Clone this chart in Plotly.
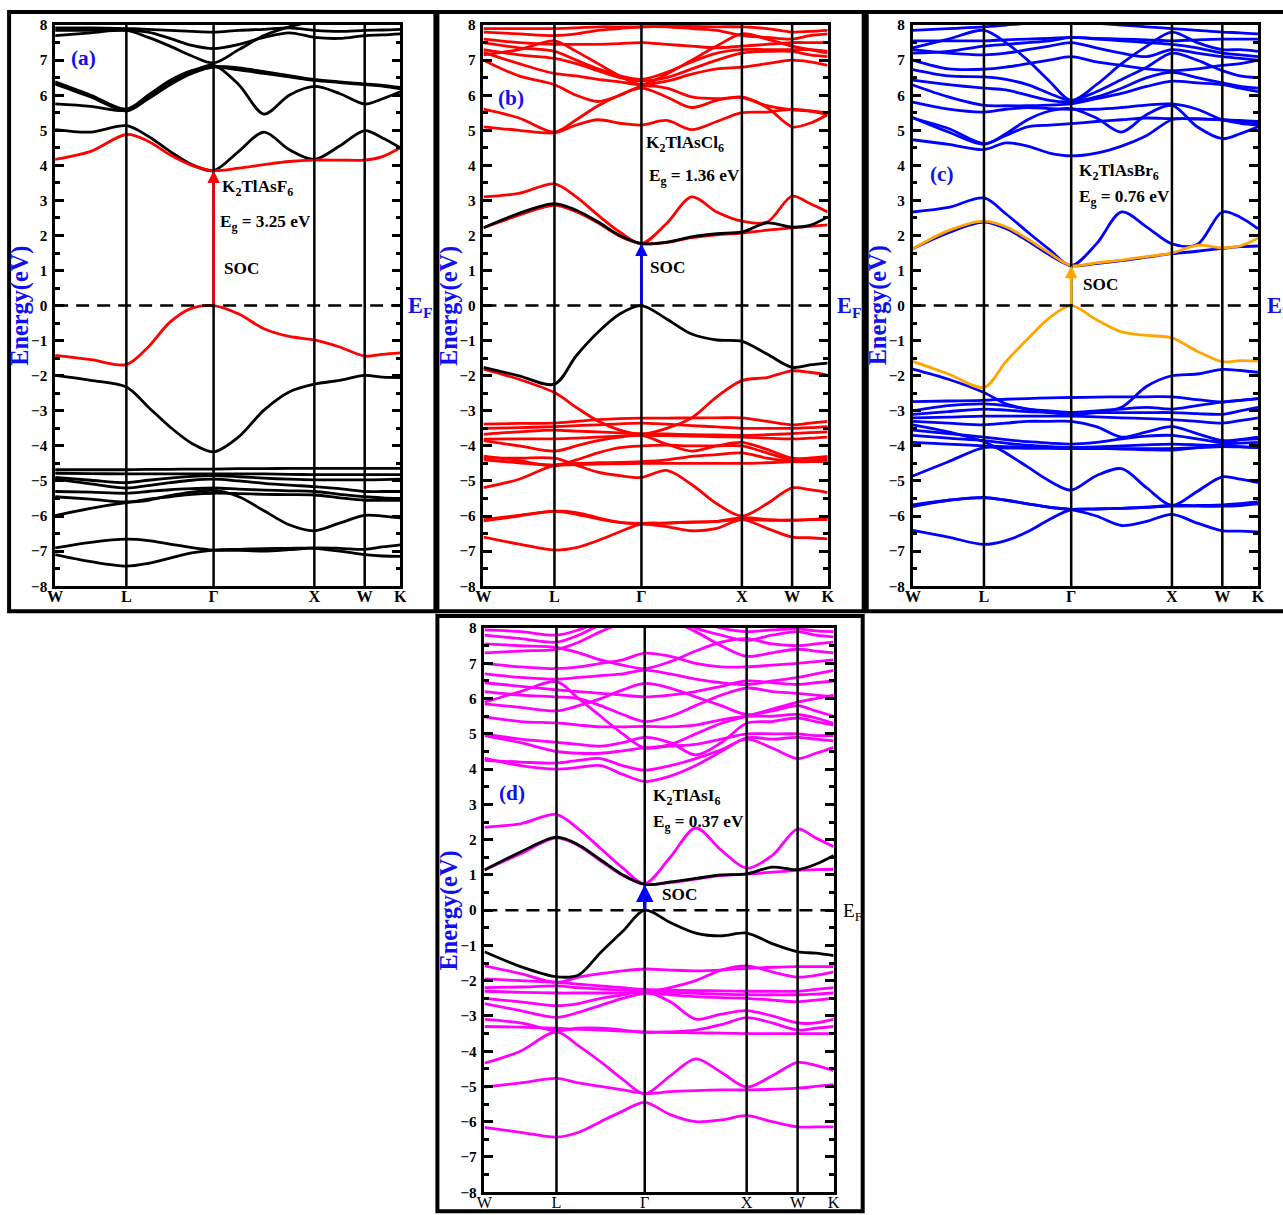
import plotly.graph_objects as go

# ---------------------------------------------------------------
# k-path W-L-Gamma-X-W-K (FCC, units of 2*pi/a) and sample points
# ---------------------------------------------------------------
K_NODES = [0.0, 0.354, 0.707, 0.924, 1.140, 1.357, 1.573, 1.823, 2.073,
           2.323, 2.573, 2.823, 3.073, 3.250, 3.427]
HS_POS = [0.0, 0.707, 1.573, 2.573, 3.073, 3.427]
HS_LABELS = ["W", "L", "Γ", "X", "W", "K"]
K_GAMMA = 1.573
K_MAX = 3.427

# ---------------- (a) K2TlAsF6 ----------------
a_red_cb = [4.17, 4.40, 4.88, 4.69, 4.30, 4.00, 3.85, 3.92, 4.02, 4.11, 4.15, 4.15, 4.15, 4.25, 4.50]
a_red_vb = [-1.42, -1.54, -1.68, -1.18, -0.47, -0.07, 0.0, -0.24, -0.66, -0.88, -0.98, -1.18, -1.44, -1.39, -1.35]
a_black = [
    [5.02, 4.95, 5.13, 4.83, 4.40, 4.02, 3.85, 4.40, 4.95, 4.45, 4.17, 4.55, 4.99, 4.78, 4.50],
    [5.75, 5.68, 5.57, 5.92, 6.35, 6.68, 6.85, 6.30, 5.46, 6.00, 6.25, 6.05, 5.75, 5.90, 6.10],
    [6.38, 6.00, 5.60, 6.00, 6.42, 6.70, 6.82, 6.78, 6.67, 6.56, 6.45, 6.38, 6.32, 6.28, 6.22],
    [6.32, 5.95, 5.55, 5.90, 6.30, 6.62, 6.80, 6.72, 6.62, 6.52, 6.42, 6.36, 6.30, 6.26, 6.18],
    [7.70, 7.78, 7.85, 7.65, 7.40, 7.12, 6.92, 7.30, 7.70, 7.95, 8.10, 8.10, 8.05, 8.05, 8.05],
    [7.85, 7.85, 7.85, 7.80, 7.62, 7.42, 7.33, 7.45, 7.65, 7.78, 7.65, 7.62, 7.70, 7.72, 7.75],
    [7.92, 7.92, 7.90, 7.88, 7.85, 7.82, 7.80, 7.85, 7.88, 7.92, 7.85, 7.82, 7.85, 7.86, 7.88],
    [-1.99, -2.13, -2.32, -2.89, -3.46, -3.93, -4.17, -3.74, -2.98, -2.46, -2.24, -2.13, -1.99, -2.04, -2.05],
    [-4.68, -4.68, -4.68, -4.67, -4.67, -4.66, -4.66, -4.65, -4.65, -4.64, -4.64, -4.64, -4.64, -4.64, -4.64],
    [-4.78, -4.79, -4.80, -4.80, -4.80, -4.80, -4.80, -4.80, -4.80, -4.81, -4.82, -4.82, -4.82, -4.82, -4.82],
    [-4.90, -4.98, -5.05, -4.98, -4.92, -4.87, -4.85, -4.88, -4.92, -4.95, -4.97, -4.97, -4.97, -4.96, -4.95],
    [-4.95, -5.08, -5.20, -5.13, -5.05, -4.98, -4.95, -5.00, -5.07, -5.12, -5.16, -5.22, -5.30, -5.30, -5.30],
    [-5.30, -5.32, -5.35, -5.30, -5.25, -5.22, -5.20, -5.23, -5.26, -5.28, -5.30, -5.38, -5.45, -5.48, -5.50],
    [-5.45, -5.52, -5.60, -5.52, -5.45, -5.38, -5.35, -5.36, -5.38, -5.39, -5.40, -5.48, -5.55, -5.55, -5.55],
    [-5.99, -5.78, -5.62, -5.55, -5.42, -5.32, -5.27, -5.45, -5.85, -6.25, -6.42, -6.20, -5.98, -6.00, -6.05],
    [-6.91, -6.75, -6.66, -6.70, -6.80, -6.90, -6.97, -6.98, -7.00, -6.96, -6.91, -6.92, -6.95, -6.88, -6.82],
    [-7.10, -7.30, -7.43, -7.35, -7.20, -7.05, -6.97, -6.95, -6.93, -6.92, -6.92, -7.00, -7.10, -7.14, -7.15],
]

# ---------------- (b) K2TlAsCl6 ----------------
b_black_cb = [2.22, 2.63, 2.91, 2.72, 2.39, 2.00, 1.77, 1.81, 1.96, 2.05, 2.10, 2.36, 2.24, 2.29, 2.53]
b_black_vb = [-1.76, -2.00, -2.24, -1.43, -0.76, -0.24, 0.0, -0.38, -0.81, -0.98, -1.02, -1.38, -1.76, -1.69, -1.64]
b_red = [
    [2.22, 2.58, 2.86, 2.68, 2.36, 1.98, 1.77, 1.80, 1.94, 2.02, 2.07, 2.15, 2.22, 2.26, 2.30],
    [3.10, 3.20, 3.47, 3.10, 2.58, 2.10, 1.77, 2.34, 3.10, 2.67, 2.41, 2.38, 3.12, 2.91, 2.67],
    [5.10, 5.00, 4.93, 5.15, 5.30, 5.20, 5.15, 5.28, 5.02, 5.25, 5.50, 5.52, 5.60, 5.55, 5.45],
    [5.60, 5.35, 4.95, 5.30, 5.70, 6.00, 6.20, 5.95, 5.65, 5.85, 5.95, 5.65, 5.10, 5.20, 5.45],
    [7.00, 6.55, 6.30, 6.00, 5.82, 6.00, 6.25, 6.20, 5.95, 5.90, 5.93, 5.70, 5.58, 5.55, 5.50],
    [7.22, 6.90, 6.62, 6.55, 6.45, 6.38, 6.30, 6.40, 6.60, 6.75, 6.80, 6.90, 7.00, 6.95, 6.85],
    [7.30, 7.15, 7.05, 6.90, 6.70, 6.50, 6.40, 6.50, 6.75, 7.00, 7.20, 7.25, 7.25, 7.15, 7.10],
    [7.50, 7.35, 7.25, 7.00, 6.75, 6.55, 6.45, 6.65, 6.95, 7.20, 7.30, 7.30, 7.30, 7.30, 7.25],
    [7.60, 7.50, 7.45, 7.45, 7.45, 7.47, 7.50, 7.45, 7.40, 7.35, 7.40, 7.45, 7.50, 7.50, 7.50],
    [7.80, 7.75, 7.70, 7.75, 7.85, 7.90, 7.95, 7.95, 7.90, 7.85, 7.70, 7.65, 7.60, 7.70, 7.75],
    [7.90, 7.90, 7.90, 7.92, 7.95, 7.95, 7.95, 7.96, 7.96, 7.95, 7.95, 7.90, 7.80, 7.82, 7.85],
    [7.15, 7.30, 7.55, 7.25, 6.90, 6.55, 6.30, 6.60, 7.00, 7.40, 7.75, 7.60, 7.40, 7.30, 7.20],
    [-1.81, -2.10, -2.48, -2.90, -3.29, -3.55, -3.67, -3.50, -3.20, -2.60, -2.14, -2.05, -1.86, -1.90, -1.98],
    [-3.38, -3.36, -3.35, -3.30, -3.25, -3.22, -3.21, -3.21, -3.20, -3.20, -3.20, -3.30, -3.40, -3.35, -3.30],
    [-3.50, -3.48, -3.45, -3.42, -3.40, -3.37, -3.35, -3.38, -3.42, -3.46, -3.50, -3.50, -3.50, -3.48, -3.45],
    [-3.67, -3.60, -3.55, -3.58, -3.60, -3.63, -3.65, -3.66, -3.68, -3.69, -3.70, -3.68, -3.65, -3.62, -3.60],
    [-3.81, -3.80, -3.80, -3.78, -3.75, -3.72, -3.70, -3.71, -3.72, -3.74, -3.75, -3.78, -3.80, -3.78, -3.75],
    [-3.85, -4.00, -4.15, -4.00, -3.85, -3.75, -3.70, -3.95, -4.15, -4.00, -3.90, -4.10, -4.35, -4.35, -4.35],
    [-4.29, -4.42, -4.57, -4.40, -4.20, -4.05, -4.00, -3.98, -4.00, -4.00, -4.00, -4.20, -4.40, -4.35, -4.30],
    [-4.40, -4.48, -4.55, -4.53, -4.52, -4.51, -4.50, -4.50, -4.50, -4.50, -4.50, -4.48, -4.45, -4.42, -4.40],
    [-5.19, -4.95, -4.55, -4.50, -4.48, -4.47, -4.45, -4.40, -4.30, -4.25, -4.20, -4.35, -4.45, -4.45, -4.45],
    [-4.35, -4.35, -4.35, -4.55, -4.75, -4.85, -4.90, -4.70, -5.10, -5.65, -6.00, -5.65, -5.20, -5.25, -5.33],
    [-6.14, -6.00, -5.86, -5.90, -6.05, -6.18, -6.22, -6.20, -6.18, -6.15, -6.10, -6.12, -6.12, -6.10, -6.05],
    [-6.10, -5.98, -5.87, -5.95, -6.08, -6.18, -6.22, -6.30, -6.42, -6.35, -6.10, -6.35, -6.60, -6.62, -6.65],
    [-6.60, -6.80, -6.97, -6.90, -6.70, -6.45, -6.22, -6.20, -6.17, -6.15, -6.05, -6.10, -6.12, -6.10, -6.10],
]

# ---------------- (c) K2TlAsBr6 ----------------
c_orange_cb = [1.62, 2.14, 2.41, 2.25, 1.90, 1.50, 1.14, 1.22, 1.30, 1.40, 1.50, 1.72, 1.65, 1.70, 1.92]
c_orange_vb = [-1.59, -1.95, -2.33, -1.60, -0.95, -0.35, 0.0, -0.40, -0.75, -0.85, -0.92, -1.30, -1.60, -1.57, -1.58]
c_blue = [
    [1.62, 2.08, 2.38, 2.20, 1.85, 1.45, 1.14, 1.20, 1.28, 1.38, 1.48, 1.55, 1.63, 1.68, 1.70],
    [2.67, 2.80, 3.07, 2.62, 2.10, 1.60, 1.14, 1.76, 2.67, 2.24, 1.76, 1.74, 2.67, 2.52, 2.19],
    [4.73, 4.60, 4.45, 4.64, 4.55, 4.35, 4.27, 4.35, 4.55, 4.85, 5.30, 5.32, 5.30, 5.25, 5.20],
    [5.36, 4.95, 4.60, 4.90, 5.30, 5.55, 5.62, 5.35, 4.95, 5.45, 5.71, 5.10, 4.76, 4.90, 5.10],
    [5.35, 5.05, 4.62, 4.85, 5.10, 5.15, 5.19, 5.25, 5.30, 5.35, 5.33, 5.33, 5.30, 5.28, 5.25],
    [5.80, 5.60, 5.52, 5.60, 5.65, 5.62, 5.60, 5.60, 5.65, 5.72, 5.75, 5.60, 5.30, 5.20, 5.15],
    [6.29, 5.95, 5.71, 5.70, 5.70, 5.72, 5.75, 5.90, 6.05, 6.25, 6.40, 6.35, 6.30, 6.20, 6.10],
    [6.43, 6.30, 6.20, 6.15, 6.00, 5.85, 5.81, 5.95, 6.20, 6.50, 6.65, 6.50, 6.35, 6.25, 6.20],
    [6.73, 6.55, 6.52, 6.45, 6.30, 6.05, 5.85, 6.10, 6.45, 6.80, 7.20, 7.00, 6.70, 6.55, 6.50],
    [7.00, 6.75, 6.74, 6.80, 6.90, 7.00, 7.10, 6.95, 6.85, 6.75, 6.70, 6.75, 6.85, 6.90, 7.00],
    [7.20, 7.25, 7.40, 7.45, 7.50, 7.55, 7.65, 7.60, 7.55, 7.50, 7.45, 7.35, 7.20, 7.15, 7.10],
    [7.35, 7.60, 7.85, 7.50, 7.00, 6.40, 5.85, 6.30, 6.90, 7.40, 7.80, 7.50, 7.30, 7.30, 7.25],
    [7.55, 7.55, 7.55, 7.58, 7.60, 7.62, 7.65, 7.62, 7.60, 7.58, 7.55, 7.58, 7.60, 7.60, 7.60],
    [7.85, 7.90, 7.95, 8.00, 8.05, 8.08, 8.10, 8.05, 8.00, 7.95, 7.90, 7.85, 7.80, 7.78, 7.75],
    [7.30, 7.20, 7.15, 7.20, 7.30, 7.40, 7.50, 7.35, 7.20, 7.10, 7.30, 7.20, 7.10, 7.05, 7.00],
    [-1.81, -2.10, -2.48, -2.80, -2.95, -3.05, -3.10, -3.05, -2.90, -2.30, -2.00, -1.95, -1.82, -1.85, -1.90],
    [-2.74, -2.72, -2.70, -2.67, -2.65, -2.63, -2.62, -2.61, -2.60, -2.60, -2.60, -2.68, -2.75, -2.70, -2.65],
    [-3.00, -2.85, -2.80, -2.85, -2.95, -3.00, -3.05, -3.00, -2.95, -2.90, -2.95, -2.85, -2.75, -2.70, -2.65],
    [-3.10, -3.02, -2.95, -2.98, -3.02, -3.04, -3.05, -3.05, -3.05, -3.05, -3.05, -3.08, -3.10, -3.00, -2.90],
    [-3.20, -3.18, -3.15, -3.15, -3.15, -3.15, -3.15, -3.17, -3.20, -3.22, -3.25, -3.30, -3.35, -3.28, -3.20],
    [-3.30, -3.35, -3.40, -3.35, -3.30, -3.30, -3.30, -3.45, -3.75, -3.60, -3.45, -3.65, -3.85, -3.82, -3.80],
    [-3.55, -3.65, -3.75, -3.82, -3.88, -3.92, -3.95, -3.90, -3.80, -3.72, -3.70, -3.80, -3.90, -3.82, -3.75],
    [-3.70, -3.78, -3.85, -3.92, -3.98, -4.02, -4.05, -4.07, -4.09, -4.11, -4.12, -4.05, -3.95, -3.92, -3.90],
    [-3.90, -3.95, -4.00, -4.02, -4.04, -4.05, -4.05, -4.03, -4.00, -3.97, -3.95, -3.97, -4.00, -4.02, -4.05],
    [-4.86, -4.45, -4.05, -4.06, -4.07, -4.07, -4.08, -4.08, -4.08, -4.08, -4.08, -4.05, -4.02, -4.03, -4.05],
    [-3.40, -3.60, -3.88, -4.20, -4.60, -5.00, -5.26, -4.85, -4.65, -5.20, -5.70, -5.30, -4.88, -4.95, -5.05],
    [-5.73, -5.55, -5.48, -5.55, -5.65, -5.75, -5.81, -5.80, -5.78, -5.75, -5.72, -5.72, -5.72, -5.70, -5.65],
    [-5.68, -5.55, -5.47, -5.55, -5.65, -5.75, -5.82, -6.00, -6.27, -6.15, -5.95, -6.20, -6.42, -6.43, -6.45],
    [-6.41, -6.60, -6.81, -6.70, -6.45, -6.10, -5.82, -5.80, -5.78, -5.75, -5.70, -5.70, -5.68, -5.65, -5.60],
]

# ---------------- (d) K2TlAsI6 ----------------
d_black_cb = [1.14, 1.65, 2.07, 1.85, 1.43, 1.00, 0.73, 0.80, 0.90, 1.00, 1.03, 1.22, 1.15, 1.30, 1.55]
d_black_vb = [-1.18, -1.60, -1.89, -1.84, -1.20, -0.60, 0.0, -0.35, -0.65, -0.73, -0.65, -0.95, -1.18, -1.22, -1.29]
d_magenta = [
    [1.14, 1.60, 2.05, 1.83, 1.40, 0.98, 0.73, 0.78, 0.88, 0.98, 1.02, 1.08, 1.13, 1.15, 1.16],
    [2.35, 2.45, 2.71, 2.30, 1.75, 1.20, 0.75, 1.50, 2.33, 1.70, 1.19, 1.55, 2.30, 2.05, 1.80],
    [4.31, 4.10, 4.00, 4.05, 4.10, 3.85, 3.65, 3.80, 4.10, 4.50, 4.89, 4.85, 4.90, 4.85, 4.80],
    [4.25, 4.20, 4.17, 4.25, 4.30, 4.10, 3.97, 4.10, 4.30, 4.55, 4.85, 4.60, 4.30, 4.45, 4.62],
    [4.95, 4.75, 4.50, 4.45, 4.45, 4.52, 4.60, 4.65, 4.70, 4.85, 5.00, 5.00, 5.00, 4.95, 4.95],
    [5.00, 4.85, 4.76, 4.70, 4.65, 4.75, 4.90, 4.75, 4.40, 4.75, 5.30, 5.35, 5.45, 5.35, 5.25],
    [5.48, 5.35, 5.31, 5.25, 5.20, 5.20, 5.21, 5.20, 5.25, 5.40, 5.50, 5.50, 5.55, 5.45, 5.30],
    [5.90, 6.20, 6.48, 6.00, 5.50, 5.00, 4.60, 4.70, 5.00, 5.30, 5.50, 5.70, 5.90, 6.00, 6.10],
    [5.85, 5.75, 5.65, 5.80, 6.00, 6.25, 6.43, 6.30, 6.05, 5.80, 5.55, 5.65, 5.80, 5.65, 5.50],
    [6.20, 6.10, 6.05, 6.00, 5.80, 5.55, 5.35, 5.50, 5.80, 6.10, 6.30, 6.20, 6.15, 6.10, 6.05],
    [6.45, 6.35, 6.25, 6.20, 6.15, 6.10, 6.05, 6.10, 6.20, 6.35, 6.50, 6.45, 6.40, 6.45, 6.50],
    [6.70, 6.60, 6.55, 6.60, 6.65, 6.70, 6.81, 6.70, 6.55, 6.45, 6.40, 6.50, 6.60, 6.70, 6.80],
    [7.00, 6.90, 6.85, 6.90, 7.00, 7.10, 7.29, 7.20, 7.00, 6.90, 6.90, 6.95, 7.00, 7.05, 7.10],
    [7.30, 7.35, 7.40, 7.60, 7.90, 8.15, 8.30, 8.20, 7.90, 7.50, 7.20, 7.30, 7.40, 7.35, 7.30],
    [7.55, 7.50, 7.45, 7.30, 7.10, 6.95, 6.85, 7.05, 7.35, 7.60, 7.70, 7.55, 7.50, 7.55, 7.60],
    [7.80, 7.70, 7.60, 7.80, 8.10, 8.35, 8.50, 8.30, 8.00, 7.80, 7.65, 7.80, 7.90, 7.80, 7.75],
    [7.95, 7.90, 7.80, 7.95, 8.20, 8.40, 8.50, 8.40, 8.20, 8.00, 7.90, 7.95, 7.98, 7.92, 7.90],
    [-1.58, -1.80, -2.05, -1.90, -1.80, -1.72, -1.67, -1.70, -1.72, -1.70, -1.65, -1.62, -1.60, -1.60, -1.60],
    [-1.95, -2.00, -2.05, -2.10, -2.15, -2.20, -2.25, -2.27, -2.28, -2.29, -2.30, -2.30, -2.30, -2.25, -2.20],
    [-2.20, -2.18, -2.15, -2.20, -2.24, -2.27, -2.30, -2.33, -2.36, -2.38, -2.40, -2.40, -2.40, -2.38, -2.35],
    [-2.30, -2.33, -2.35, -2.35, -2.35, -2.35, -2.35, -2.40, -2.45, -2.48, -2.50, -2.55, -2.60, -2.55, -2.50],
    [-2.50, -2.60, -2.71, -2.65, -2.50, -2.40, -2.30, -2.60, -3.09, -2.95, -2.85, -3.00, -3.20, -3.20, -3.10],
    [-2.65, -2.85, -3.04, -2.90, -2.70, -2.50, -2.35, -2.20, -2.00, -1.70, -1.58, -1.75, -1.90, -1.85, -1.75],
    [-3.10, -3.20, -3.42, -3.35, -3.35, -3.40, -3.47, -3.45, -3.40, -3.25, -3.05, -3.20, -3.40, -3.35, -3.30],
    [-3.30, -3.32, -3.35, -3.38, -3.40, -3.43, -3.45, -3.47, -3.48, -3.49, -3.50, -3.50, -3.50, -3.50, -3.50],
    [-4.34, -4.00, -3.45, -3.85, -4.30, -4.80, -5.21, -4.70, -4.22, -4.60, -5.02, -4.70, -4.32, -4.40, -4.55],
    [-5.02, -4.90, -4.77, -4.90, -5.00, -5.10, -5.20, -5.15, -5.12, -5.10, -5.10, -5.08, -5.05, -5.00, -4.95],
    [-6.16, -6.30, -6.44, -6.30, -6.00, -5.70, -5.45, -5.80, -6.00, -5.95, -5.83, -6.00, -6.15, -6.15, -6.15],
]

# Panel texts
PANEL_TAGS = ["(a)", "(b)", "(c)", "(d)"]
COMPOUNDS = ["K<sub>2</sub>TlAsF<sub>6</sub>", "K<sub>2</sub>TlAsCl<sub>6</sub>",
             "K<sub>2</sub>TlAsBr<sub>6</sub>", "K<sub>2</sub>TlAsI<sub>6</sub>"]
GAPS = ["3.25", "1.36", "0.76", "0.37"]
CBM_GAMMA = [3.85, 1.77, 1.14, 0.73]

# ---------------------------------------------------------------
# Layout geometry is given in target pixels; the graph div sits inside the
# page body (8px margin) and the page is shown at 1283/1299 of its size.
PAGE_PAD = 8
SHOW = 1283 / 1299
W_FIG, H_FIG = 1291, 1223
SERIF = "Liberation Serif"
BLUE_TXT = "#1010f0"


def px_x(p):
    return (p / SHOW - PAGE_PAD) / W_FIG


def px_y(p):
    return 1 - (p / SHOW - PAGE_PAD) / H_FIG


def fs(size):
    return round(size / SHOW, 1)


# plot areas in target pixels: (left, right, top, bottom)
AREAS = [(55, 400, 24, 586), (483, 827, 24, 586), (912, 1257, 24, 586), (484, 833, 628, 1193)]
# outer frames: (left, right, top, bottom)
FRAMES = [(9, 435, 11, 611), (437, 863, 11, 611), (866, 1310, 11, 611), (437, 862, 616, 1212)]
# E_F label anchors (left, middle)
EF_POS = [(406, 306), (834, 306), (1264, 306), (840, 912)]

fig = go.Figure()


def add_bands(idx, bands, color, width=2.8):
    xa = "x" if idx == 0 else f"x{idx + 1}"
    ya = "y" if idx == 0 else f"y{idx + 1}"
    for band in bands:
        fig.add_trace(go.Scatter(x=K_NODES, y=band, mode="lines", xaxis=xa, yaxis=ya,
                                 line=dict(color=color, width=width, shape="spline", smoothing=0.9),
                                 hoverinfo="skip", showlegend=False))


RED, BLUE, ORANGE, MAGENTA, BLACK = "#ff0000", "#0000ff", "#ffa500", "#ff00ff", "#000000"

# (a) black bands under the red band edges
add_bands(0, a_black, BLACK)
add_bands(0, [a_red_cb, a_red_vb], RED)
# (b)
add_bands(1, b_red, RED)
add_bands(1, [b_black_cb, b_black_vb], BLACK)
# (c)
add_bands(2, c_blue, BLUE)
add_bands(2, [c_orange_cb, c_orange_vb], ORANGE)
# (d)
add_bands(3, d_magenta, MAGENTA)
add_bands(3, [d_black_cb, d_black_vb], BLACK)

layout = dict(width=W_FIG, height=H_FIG, margin=dict(l=0, r=0, t=0, b=0),
              paper_bgcolor="white", plot_bgcolor="white", showlegend=False)

shapes = []
annotations = []
arrow_colors = [RED, BLUE, ORANGE, BLUE]

for i, (l, r, t, b) in enumerate(AREAS):
    sx = "" if i == 0 else str(i + 1)
    xa, ya = "x" + sx, "y" + sx
    bold_ticks = i < 3
    layout["xaxis" + sx] = dict(
        domain=[px_x(l), px_x(r)], anchor=ya, range=[0, K_MAX], showgrid=False, zeroline=False,
        showline=True, linecolor="black", linewidth=2.5, mirror=True,
        tickmode="array", tickvals=HS_POS, ticktext=HS_LABELS, ticks="",
        tickfont=dict(family=SERIF, size=fs(16), color="black",
                      weight="bold" if bold_ticks else "normal"),
        ticklabelstandoff=-6, fixedrange=True)
    layout["yaxis" + sx] = dict(
        domain=[px_y(b), px_y(t)], anchor=xa, range=[-8, 8], showgrid=False, zeroline=False,
        showline=True, linecolor="black", linewidth=2.5, mirror="allticks",
        tickmode="linear", tick0=-8, dtick=1, ticks="inside", ticklen=9, tickwidth=2.5,
        tickcolor="black",
        minor=dict(dtick=0.5, ticks="inside", ticklen=5, tickwidth=2.5, tickcolor="black"),
        tickfont=dict(family=SERIF, size=fs(15), color="black", weight="bold"),
        ticklabelstandoff=2, fixedrange=True)

    # high-symmetry verticals
    for k in HS_POS[1:-1]:
        shapes.append(dict(type="line", xref=xa, yref=ya, x0=k, x1=k, y0=-8, y1=8,
                           line=dict(color="black", width=2.5), layer="above"))
    # Fermi level
    shapes.append(dict(type="line", xref=xa, yref=ya, x0=0, x1=K_MAX, y0=0, y1=0,
                       line=dict(color="black", width=2.5, dash="13px,8px"), layer="above"))

    # outer frame
    fl, fr, ft, fb = FRAMES[i]
    shapes.append(dict(type="rect", xref="paper", yref="paper",
                       x0=px_x(fl), x1=px_x(fr), y0=px_y(fb), y1=px_y(ft),
                       line=dict(color="black", width=4), fillcolor="rgba(0,0,0,0)"))

    # SOC gap arrow at Gamma
    annotations.append(dict(xref=xa, yref=ya, axref=xa, ayref=ya, x=K_GAMMA, y=CBM_GAMMA[i],
                            ax=K_GAMMA, ay=0, text="", showarrow=True, arrowhead=2,
                            arrowsize=1.0, arrowwidth=2.5 if i < 3 else 3.5,
                            arrowcolor=arrow_colors[i], standoff=0, startstandoff=0))

    # Energy axis title
    ymid = (t + b) / 2
    annotations.append(dict(xref="paper", yref="paper", x=px_x(l - 35), y=px_y(ymid),
                            text="Energy(eV)", textangle=-90, showarrow=False,
                            font=dict(family=SERIF, size=fs(24), color=BLUE_TXT, weight="bold"),
                            xanchor="center", yanchor="middle"))

    # Fermi level label, right of the frame
    ex, ey = EF_POS[i]
    ef_font = (dict(family=SERIF, size=fs(22), color=BLUE_TXT, weight="bold") if i < 3
               else dict(family=SERIF, size=fs(19), color="black", weight="normal"))
    annotations.append(dict(xref="paper", yref="paper", x=px_x(ex), y=px_y(ey),
                            xanchor="left", yanchor="middle", showarrow=False,
                            text="E<sub>F</sub>", font=ef_font))

# panel tags
tag_pos = [(0.28, 7.07), (0.27, 5.93), (0.29, 3.76), (0.275, 3.31)]
for i, (kx, ey) in enumerate(tag_pos):
    sx = "" if i == 0 else str(i + 1)
    annotations.append(dict(xref="x" + sx, yref="y" + sx, x=kx, y=ey, showarrow=False,
                            text=PANEL_TAGS[i],
                            font=dict(family=SERIF, size=fs(21), color=BLUE_TXT, weight="bold")))

# compound name, gap and SOC labels
name_pos = [(1.64, 3.35), (1.60, 4.60), (1.63, 3.82), (1.63, 3.22)]
gap_pos = [(1.62, 2.35), (1.63, 3.68), (1.63, 3.08), (1.63, 2.48)]
soc_pos = [(1.66, 1.05), (1.64, 1.10), (1.67, 0.60), (1.72, 0.45)]
txt_font = dict(family=SERIF, size=fs(17), color="black", weight="bold")
for i in range(4):
    sx = "" if i == 0 else str(i + 1)
    for (kx, ey), txt in ((name_pos[i], COMPOUNDS[i]),
                          (gap_pos[i], f"E<sub>g</sub> = {GAPS[i]} eV"),
                          (soc_pos[i], "SOC")):
        annotations.append(dict(xref="x" + sx, yref="y" + sx, x=kx, y=ey, xanchor="left",
                                yanchor="middle", showarrow=False, text=txt, font=txt_font))

layout["shapes"] = shapes
layout["annotations"] = annotations
fig.update_layout(**layout)

fig.write_html("out.html")
